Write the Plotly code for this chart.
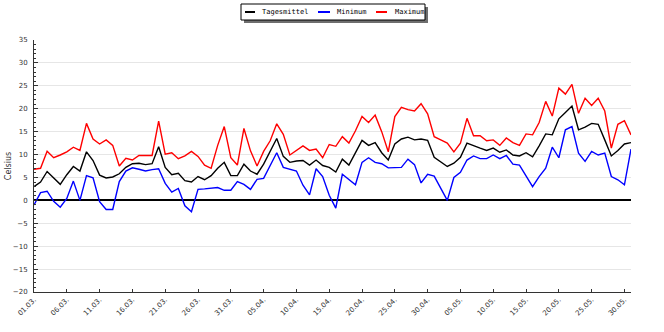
import plotly.graph_objects as go
import pandas as pd

dates = pd.date_range("2023-03-01", "2023-05-31", freq="D")

tagesmittel = [3.0, 4.0, 6.3, 5.0, 3.5, 5.6, 7.4, 6.4, 10.6, 8.7,
               5.5, 4.9, 5.1, 5.8, 7.2, 8.0, 8.1, 7.8, 8.0, 11.7,
               7.2, 5.6, 5.9, 4.3, 4.0, 5.2, 4.5, 5.4, 7.0, 8.3,
               5.4, 5.4, 7.9, 6.4, 5.7, 7.9, 10.6, 13.5, 9.6, 8.3,
               8.6, 8.7, 7.7, 8.8, 7.6, 7.2, 6.2, 9.0, 7.7, 10.3,
               13.1, 12.0, 12.6, 10.4, 8.8, 12.3, 13.4, 13.8, 13.2, 13.4,
               13.1, 9.4, 8.4, 7.4, 8.1, 9.4, 12.5, 11.9, 11.4, 10.9,
               11.4, 10.5, 11.0, 9.9, 9.7, 10.4, 9.5, 11.9, 14.5, 14.3,
               17.8, 19.2, 20.6, 15.4, 16.0, 16.8, 16.6, 13.2, 9.7, 10.9,
               12.3, 12.6]

minimum = [-1.0, 1.7, 2.0, -0.2, -1.5, 0.4, 4.2, 0.0, 5.4, 4.9,
           -0.3, -2.0, -2.0, 4.1, 6.4, 7.1, 6.8, 6.4, 6.7, 6.9,
           3.7, 1.8, 2.6, -1.2, -2.5, 2.4, 2.5, 2.6, 2.8, 2.2,
           2.2, 4.1, 3.5, 2.4, 4.6, 4.8, 7.5, 10.4, 7.2, 6.8,
           6.4, 3.3, 1.2, 6.9, 5.2, 1.1, -1.7, 5.7, 4.5, 3.4,
           8.3, 9.3, 8.3, 8.0, 7.1, 7.2, 7.2, 9.0, 7.8, 3.8,
           5.7, 5.3, 2.6, 0.0, 5.0, 6.1, 8.8, 9.7, 9.1, 9.1,
           9.9, 9.1, 9.8, 7.9, 7.7, 5.2, 3.0, 5.2, 7.0, 11.6,
           9.3, 15.4, 16.1, 10.3, 8.5, 10.7, 9.9, 10.3, 5.2, 4.5,
           3.4, 11.2]

maximum = [6.8, 7.0, 10.7, 9.3, 9.9, 10.6, 11.6, 10.9, 16.8, 13.4,
           12.3, 13.2, 12.0, 7.5, 9.2, 8.8, 9.8, 9.8, 9.8, 17.3,
           10.1, 10.4, 9.1, 9.7, 10.7, 9.6, 7.7, 7.0, 12.0, 16.1,
           9.3, 7.7, 15.7, 10.8, 7.5, 10.7, 13.0, 16.7, 14.4, 9.9,
           11.0, 11.9, 10.9, 11.2, 9.3, 12.2, 11.8, 13.9, 12.5, 15.2,
           18.3, 17.0, 18.6, 15.0, 10.6, 18.3, 20.3, 19.8, 19.5, 21.1,
           18.9, 13.9, 13.2, 12.5, 10.6, 12.5, 17.9, 14.1, 14.1, 13.0,
           13.2, 12.0, 13.6, 12.6, 12.0, 14.5, 14.3, 17.0, 21.6, 18.4,
           24.5, 23.2, 25.3, 19.0, 22.3, 20.7, 22.3, 19.5, 11.4, 16.6,
           17.4, 14.3]

series_names = ["Tagesmittel", "Minimum", "Maximum"]
series_colors = ["#000000", "#0000ff", "#ff0000"]
y_ticks = list(range(-20, 40, 5))

fig = go.Figure()
for name, vals, col in zip(series_names, [tagesmittel, minimum, maximum], series_colors):
    fig.add_trace(go.Scatter(x=dates, y=vals, mode="lines", name=name,
                             line=dict(color=col, width=1.4), showlegend=False))

W, H = 664, 332
L, R, T, B = 34, 33, 40, 40
pw, ph = W - L - R, H - T - B

def px(x, y):
    return (x - L) / pw, (H - B - y) / ph

# custom legend box (pixel layout converted to paper coords)
box = (241, 4, 425, 20)
sh = 3
a, b = px(box[0] + sh, box[1] + sh)
c, d = px(box[2] + sh, box[3] + sh)
fig.add_shape(type="rect", xref="paper", yref="paper", x0=a, y0=d, x1=c, y1=b,
              fillcolor="#6e6e6e", line=dict(width=0), layer="above")
a, b = px(box[0], box[1])
c, d = px(box[2], box[3])
fig.add_shape(type="rect", xref="paper", yref="paper", x0=a, y0=d, x1=c, y1=b,
              fillcolor="white", line=dict(color="#000000", width=1), layer="above")

legend_items = [(245, 255, 260), (318, 330, 335), (376, 387, 393)]
ymid = (box[1] + box[3]) / 2
for (lx0, lx1, tx), name, col in zip(legend_items, series_names, series_colors):
    x0, yy = px(lx0, ymid)
    x1, _ = px(lx1, ymid)
    fig.add_shape(type="line", xref="paper", yref="paper", x0=x0, x1=x1, y0=yy, y1=yy,
                  line=dict(color=col, width=2), layer="above")
    tx_p, _ = px(tx, ymid)
    fig.add_annotation(xref="paper", yref="paper", x=tx_p, y=yy, xanchor="left", yanchor="middle",
                       text=name, showarrow=False,
                       font=dict(family="DejaVu Sans Mono", size=7, color="#000000"))

fig.update_layout(
    width=W, height=H,
    margin=dict(l=L, r=R, t=T, b=B, autoexpand=False),
    paper_bgcolor="white", plot_bgcolor="white",
    showlegend=False,
    font=dict(family="DejaVu Sans", size=8, color="#333333"),
)
fig.update_xaxes(
    range=[dates[0], dates[-1]],
    tickformat="%d.%m.", dtick=5 * 86400000, tick0=dates[0],
    tickangle=-45, showgrid=False,
    showline=True, linecolor="#333333", linewidth=1,
    ticks="inside", ticklen=3, tickcolor="#333333",
    tickfont=dict(family="DejaVu Sans", size=7, color="#333333"),
    zeroline=False,
)
fig.update_yaxes(
    range=[-20, 35], tickvals=y_ticks,
    showgrid=True, gridcolor="#e6e6e6", gridwidth=1,
    showline=True, linecolor="#333333", linewidth=1,
    ticks="inside", ticklen=4, tickcolor="#333333",
    minor=dict(dtick=1, ticks="inside", ticklen=2, tickcolor="#333333", showgrid=False),
    zeroline=True, zerolinecolor="#000000", zerolinewidth=2,
    ticklabelstandoff=4,
    tickfont=dict(family="DejaVu Sans", size=7, color="#333333"),
    title=dict(text="Celsius", font=dict(family="DejaVu Sans", size=8, color="#333333"), standoff=0),
)
fig.write_html("out.html")
